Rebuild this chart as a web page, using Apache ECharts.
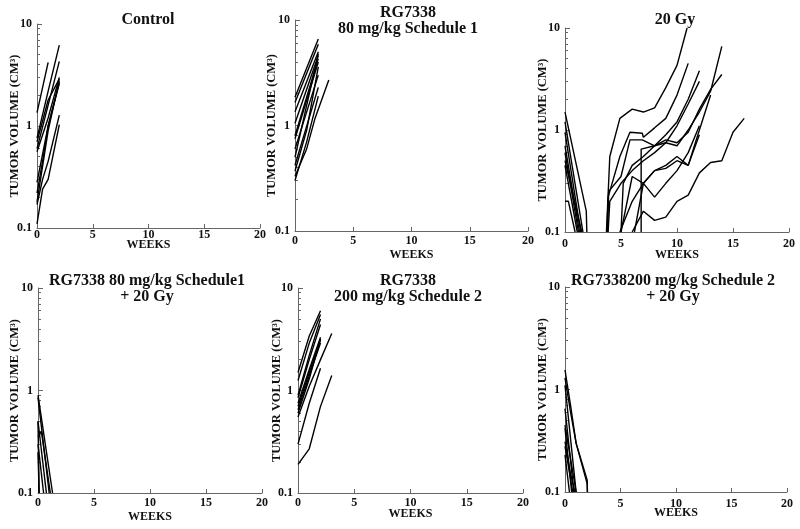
<!DOCTYPE html>
<html><head><meta charset="utf-8">
<script src="https://cdn.jsdelivr.net/npm/echarts@6/dist/echarts.min.js"></script>
<style>html,body{margin:0;padding:0;background:#fff}#c{width:800px;height:529px}</style>
</head><body><div id="c"></div>
<script>
// ---------- DATA ----------
const panelTitles = [
  "Control",
  "RG7338\n80 mg/kg Schedule 1",
  "20 Gy",
  "RG7338 80 mg/kg Schedule1\n+ 20 Gy",
  "RG7338\n200 mg/kg Schedule 2",
  "RG7338200 mg/kg Schedule 2\n+ 20 Gy"
];
const xAxisName = "WEEKS";
const yAxisName = "TUMOR VOLUME (CM³)";
const xTickValues = [0, 5, 10, 15, 20];
const yMajorTicks = [0.1, 1, 10];
const yMinorTicks = [0.2,0.3,0.4,0.5,0.6,0.7,0.8,0.9,2,3,4,5,6,7,8,9];

// each series: [week, tumor volume cm3]
const controlSeries = [
  [[0,1.35],[1,4.2]],
  [[0,0.76],[1,2.2],[2,6.2]],
  [[0,0.6],[1,1.6],[2,4.3]],
  [[0,0.56],[1,1.2],[2,3.0]],
  [[0,0.28],[1,1.0],[2,2.7]],
  [[0,0.22],[0.5,0.45],[1,1.0],[2,2.6]],
  [[0,0.17],[0.5,0.3],[1,0.45],[2,1.28]],
  [[0,0.11],[0.5,0.24],[1,0.3],[2,1.03]],
  [[0,0.18],[1,0.9],[2,2.8]],
  [[0,0.7],[1,1.8],[2,2.9]]
];
const rg80Series = [
  [[0,1.85],[2,6.6]],
  [[0,1.65],[2,5.9]],
  [[0,1.35],[2,5.0]],
  [[0,1.05],[2,4.6]],
  [[0,0.8],[2,4.3]],
  [[0,0.75],[2,4.0]],
  [[0,0.6],[2,3.0]],
  [[0,0.5],[2,4.8]],
  [[0,0.42],[2,2.3]],
  [[0,0.37],[1,0.9],[2,3.6]],
  [[0,0.33],[1,0.6],[1.7,1.15],[2.9,2.7]],
  [[0,0.3],[1,0.7],[2,1.9]]
];
const gy20Series = [
  [[0,1.5],[1.9,0.16],[1.95,0.1]],
  [[0,1.2],[1.6,0.1]],
  [[0,0.95],[1.4,0.1]],
  [[0,0.7],[1.3,0.1]],
  [[0,0.6],[1.2,0.1]],
  [[0,0.5],[1.5,0.1]],
  [[0,0.45],[1.1,0.1]],
  [[0,0.2],[0.3,0.2],[0.9,0.1]],
  [[3.7,0.1],[4.0,0.55],[4.9,1.3],[6,1.6],[7,1.5],[8,1.65],[9,2.6],[10,4.3],[10.9,10]],
  [[3.75,0.1],[3.85,0.22],[4.9,0.55],[5.8,0.95],[6.9,0.93],[7,0.85],[8,1.05],[9,1.3],[10,2.2],[11,4.5]],
  [[3.8,0.1],[3.9,0.25],[5,0.35],[5.8,0.8],[6.9,0.8],[8,0.7],[9,0.9],[10,1.2],[11,2.0],[12,3.8]],
  [[3.85,0.1],[4,0.2],[5,0.3],[6,0.4],[7,0.5],[8,0.6],[9,0.75],[10,1.1],[11,1.8],[12,3.0]],
  [[6.8,0.1],[6.8,0.65],[8,0.7],[9,0.75],[10,0.7],[11,1.0],[12,1.5],[13,2.4],[14,6.6]],
  [[5,0.1],[5.2,0.3],[6,0.45],[7,0.55],[8,0.7],[9,0.8],[10,0.75],[11,0.95],[12,1.6],[13,2.5],[14,3.5]],
  [[4.9,0.1],[6,0.2],[7,0.3],[8,0.4],[9,0.45],[10,0.55],[11,0.45],[12,1.0],[13,2.2]],
  [[6,0.1],[7,0.16],[8,0.13],[9,0.14],[10,0.2],[11,0.23],[12,0.38],[13,0.48],[14,0.5],[15,0.95],[16,1.3]],
  [[6.2,0.1],[7,0.3],[8,0.22],[9,0.3],[10,0.4],[11,0.6],[12,1.1]],
  [[5,0.1],[6,0.35],[7,0.3],[8,0.4],[9,0.42],[10,0.5],[11,0.45],[12,0.9]]
];
const rg80gySeries = [
  [[0,0.9],[1.3,0.1]],
  [[0,0.85],[1.0,0.1]],
  [[0,0.5],[0.75,0.1]],
  [[0,0.35],[0.3,0.4],[1.1,0.1]],
  [[0,0.3],[0.5,0.1]],
  [[0,0.25],[0.1,0.1]],
  [[0,0.5],[0.1,0.1]]
];
const rg200Series = [
  [[0,1.5],[1,3.4],[2,6.0]],
  [[0,1.25],[1,2.9],[2,5.5]],
  [[0,0.9],[1,2.2],[2,5.0]],
  [[0,0.85],[1,2.0],[2,4.4]],
  [[0,0.75],[1,1.6],[2,3.3]],
  [[0,0.7],[1,1.5],[2,3.1]],
  [[0,0.65],[1,1.4],[2,2.9]],
  [[0,0.6],[1,1.3],[2,3.2]],
  [[0,0.55],[1,1.1],[2,2.0],[3,3.6]],
  [[0,0.3],[1,0.75],[2,1.65]],
  [[0,0.19],[1,0.27],[2,0.7],[3,1.4]]
];
const rg200gySeries = [
  [[0,1.55],[0.5,0.7],[1,0.3],[2,0.13],[2.02,0.1]],
  [[0,1.3],[0.5,0.6],[1,0.3],[2,0.12],[2.02,0.1]],
  [[0,1.1],[1,0.1]],
  [[0,0.65],[0.8,0.1]],
  [[0,0.42],[0.6,0.1]],
  [[0,0.31],[0.5,0.15],[0.9,0.1]],
  [[0,0.28],[0.7,0.1]],
  [[0,0.23],[0.4,0.1]],
  [[0,0.45],[1,0.1]]
];
const panelSeries = [controlSeries, rg80Series, gy20Series, rg80gySeries, rg200Series, rg200gySeries];

// ---------- LAYOUT ----------
const gridBoxes = [
  {left:37, top:24, width:223, height:204},
  {left:295, top:20, width:233, height:211},
  {left:565, top:28, width:224, height:204},
  {left:38, top:288, width:224, height:205},
  {left:298, top:288, width:225, height:205},
  {left:565, top:287, width:222, height:205}
];
const titlePos = [
  {x:148, y:12}, {x:408, y:5}, {x:675, y:12},
  {x:147, y:273}, {x:408, y:273}, {x:673, y:273}
];
const xNameGaps = [11, 18, 17, 18, 15, 15];
const xLabelMargins = [1, 4, 6, 4, 4, 6];
const yNameGaps = [16, 17, 16, 17, 15, 16];

const FONT = "'Liberation Serif', 'DejaVu Serif', serif";
const axisColor = '#666';

const option = {
  animation:false,
  backgroundColor:'#fff',
  title: panelTitles.map((t,i)=>({
    text:t, left:titlePos[i].x, top:titlePos[i].y, textAlign:'center', padding:0,
    textStyle:{fontFamily:FONT, fontWeight:'bold', fontSize:16, color:'#111', lineHeight:16}
  })),
  grid: gridBoxes.map(g=>Object.assign({containLabel:false}, g)),
  xAxis: gridBoxes.map((g,i)=>({
    type:'value', gridIndex:i, min:0, max:20, interval:5,
    name:xAxisName, nameLocation:'middle', nameGap:xNameGaps[i], nameMoveOverlap:false,
    nameTextStyle:{fontFamily:FONT, fontWeight:'bold', fontSize:12, color:'#111'},
    axisLine:{show:true, lineStyle:{color:axisColor, width:1}},
    axisTick:{show:true, inside:true, length:4, lineStyle:{color:axisColor}, customValues:xTickValues},
    axisLabel:{fontFamily:FONT, fontWeight:'bold', fontSize:12, color:'#111', margin:xLabelMargins[i], customValues:xTickValues},
    splitLine:{show:false}
  })),
  yAxis: [].concat(
    gridBoxes.map((g,i)=>({
      type:'log', logBase:10, gridIndex:i, min:0.1, max:10,
      name:yAxisName, nameLocation:'middle', nameGap:yNameGaps[i], nameMoveOverlap:false,
      nameTextStyle:{fontFamily:FONT, fontWeight:'bold', fontSize:12.5, color:'#111'},
      axisLine:{show:true, lineStyle:{color:axisColor, width:1}},
      axisTick:{show:true, inside:true, length:5, lineStyle:{color:axisColor}, customValues:yMajorTicks},
      axisLabel:{fontFamily:FONT, fontWeight:'bold', fontSize:12, color:'#111', margin:5, customValues:yMajorTicks,
        formatter:v=>String(v)},
      splitLine:{show:false}
    })),
    gridBoxes.map((g,i)=>({
      type:'log', logBase:10, gridIndex:i, min:0.1, max:10, position:'left',
      axisLine:{show:false},
      axisTick:{show:true, inside:true, length:3, lineStyle:{color:axisColor}, customValues:yMinorTicks},
      axisLabel:{show:false},
      splitLine:{show:false}
    }))
  ),
  series: []
};
panelSeries.forEach((list,i)=>{
  list.forEach(d=>{
    option.series.push({
      type:'line', xAxisIndex:i, yAxisIndex:i, data:d, showSymbol:false, symbol:'none',
      lineStyle:{color:'#000', width:1.4}, clip:true, silent:true
    });
  });
});
const chart = echarts.init(document.getElementById('c'), null, {renderer:'canvas'});
chart.setOption(option);
</script></body></html>
